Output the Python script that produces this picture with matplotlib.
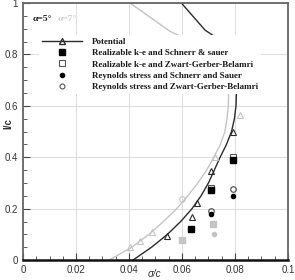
import numpy as np
import matplotlib
matplotlib.use('Agg')
import matplotlib.pyplot as plt
from matplotlib.lines import Line2D

# cavity shape, alpha = 5 deg (potential)
pot5_x = [0.0415, 0.0485, 0.0545, 0.0595, 0.0638, 0.0672, 0.0700, 0.0722, 0.0744, 0.0768,
          0.0787, 0.0798, 0.0804, 0.0806, 0.0800, 0.0782, 0.0745, 0.0687, 0.0598]
pot5_y = [0.0, 0.05, 0.10, 0.15, 0.20, 0.25, 0.30, 0.35, 0.40, 0.45,
          0.50, 0.55, 0.60, 0.66, 0.73, 0.80, 0.855, 0.895, 1.0]
# cavity shape, alpha = 7 deg (potential, grey)
pot7_x = [0.0325, 0.0410, 0.0475, 0.0530, 0.0580, 0.0622, 0.0660, 0.0693, 0.0720, 0.0745,
          0.0762, 0.0770, 0.0775, 0.0776, 0.0765, 0.0735, 0.0680, 0.0555, 0.0404]
pot7_y = [0.0, 0.05, 0.10, 0.15, 0.20, 0.25, 0.30, 0.35, 0.40, 0.45,
          0.50, 0.55, 0.60, 0.65, 0.72, 0.78, 0.83, 0.89, 1.0]

# markers alpha = 5
tri5_x = [0.0543, 0.0637, 0.0655, 0.0709, 0.0791]
tri5_y = [0.093, 0.168, 0.222, 0.346, 0.499]
rke_ss_x = [0.0633, 0.0709, 0.0791]
rke_ss_y = [0.120, 0.272, 0.390]
rke_zgb_x = [0.0709, 0.0791]
rke_zgb_y = [0.282, 0.402]
rs_ss_x = [0.0709, 0.0791]
rs_ss_y = [0.179, 0.249]
rs_zgb_x = [0.0709, 0.0791]
rs_zgb_y = [0.192, 0.277]

# markers alpha = 7 (grey)
tri7_x = [0.0405, 0.0440, 0.0486, 0.0723, 0.0819]
tri7_y = [0.052, 0.075, 0.110, 0.400, 0.564]
sq7_x = [0.0600, 0.0717]
sq7_y = [0.078, 0.140]
dot7_x = [0.0720]
dot7_y = [0.100]
circ7_x = [0.0600]
circ7_y = [0.237]

labels = ['Potential',
          'Realizable k-e and Schnerr & sauer',
          'Realizable k-e and Zwart-Gerber-Belamri',
          'Reynolds stress and Schnerr and Sauer',
          'Reynolds stress and Zwart-Gerber-Belamri']

dark = '#2b2b2b'
grey = '#c4c4c4'

fig = plt.figure(figsize=(2.95, 2.8), dpi=100)
ax = fig.add_axes([0.078, 0.071, 0.898, 0.918])

ax.plot(pot7_x, pot7_y, color=grey, lw=1.0, zorder=2)
ax.plot(pot5_x, pot5_y, color=dark, lw=1.0, zorder=2)

ax.plot(tri7_x, tri7_y, ls='none', marker='^', ms=4, mfc='none', mec=grey, mew=0.8, zorder=3)
ax.plot(sq7_x, sq7_y, ls='none', marker='s', ms=4, mfc=grey, mec=grey, zorder=3)
ax.plot(dot7_x, dot7_y, ls='none', marker='o', ms=3, mfc=grey, mec=grey, zorder=3)
ax.plot(circ7_x, circ7_y, ls='none', marker='o', ms=4, mfc='none', mec=grey, mew=0.8, zorder=3)

ax.plot(tri5_x, tri5_y, ls='none', marker='^', ms=4.5, mfc='none', mec=dark, mew=0.8, zorder=3)
ax.plot(rke_zgb_x, rke_zgb_y, ls='none', marker='s', ms=4.5, mfc='white', mec='#555555', mew=0.8, zorder=3)
ax.plot(rke_ss_x, rke_ss_y, ls='none', marker='s', ms=4.5, mfc='black', mec='black', zorder=4)
ax.plot(rs_zgb_x, rs_zgb_y, ls='none', marker='o', ms=4, mfc='none', mec='#444444', mew=0.8, zorder=3)
ax.plot(rs_ss_x, rs_ss_y, ls='none', marker='o', ms=3, mfc='black', mec='black', zorder=3)

ax.set_xlim(0, 0.1)
ax.set_ylim(0, 1)
ax.set_xticks([0, 0.02, 0.04, 0.06, 0.08, 0.1])
ax.set_xticklabels(['0', '0.02', '0.04', '0.06', '0.08', '0.1'])
ax.set_yticks([0, 0.2, 0.4, 0.6, 0.8, 1.0])
ax.set_yticklabels(['0', '0.2', '0.4', '0.6', '0.8', '1'])
ax.set_xticks(np.arange(0, 0.1001, 0.005), minor=True)
ax.set_yticks(np.arange(0, 1.001, 0.05), minor=True)
ax.tick_params(which='both', direction='in', colors='#444444', labelcolor='#333333',
               labelsize=7, top=False, right=False)
ax.tick_params(which='major', length=5, width=0.8)
ax.tick_params(which='minor', length=3, width=0.6)
for lab in ax.get_xticklabels() + ax.get_yticklabels():
    lab.set_family('Liberation Sans')
ax.grid(True, which='major', color='#dcdcdc', lw=0.7)
ax.set_axisbelow(True)
for s in ['left', 'top', 'right']:
    ax.spines[s].set_color('#666666')
    ax.spines[s].set_linewidth(1.3)
ax.spines['bottom'].set_color('#111111')
ax.spines['bottom'].set_linewidth(1.8)

handles = [
    Line2D([], [], color=dark, lw=1.0, marker='^', ms=4, mfc='none', mec=dark),
    Line2D([], [], ls='none', marker='s', ms=4, mfc='black', mec='black'),
    Line2D([], [], ls='none', marker='s', ms=4, mfc='white', mec='#555555', mew=0.8),
    Line2D([], [], ls='none', marker='o', ms=3, mfc='black', mec='black'),
    Line2D([], [], ls='none', marker='o', ms=3.5, mfc='none', mec='#555555', mew=0.8),
]
leg = ax.legend(handles, labels, loc='upper left', bbox_to_anchor=(0.06, 0.877),
                frameon=True, facecolor='white', edgecolor='none', framealpha=1,
                fancybox=False, handlelength=4.4, handletextpad=1.1, labelspacing=0.32,
                borderpad=0.35, borderaxespad=0,
                prop={'family': 'Liberation Serif', 'weight': 'bold', 'size': 6.5})
leg.set_zorder(5)
for t in leg.get_texts():
    t.set_color('#1a1a1a')

ax.text(0.0038, 0.938, 'α=5°', fontsize=6.8, family='Liberation Serif', weight='bold',
        color='#1a1a1a', va='center', zorder=6)
ax.text(0.0132, 0.938, 'α=7°', fontsize=6.8, family='Liberation Serif', weight='bold',
        color='#d0d0d0', va='center', zorder=6)

fig.text(0.027, 0.557, 'l/c', rotation=90, fontsize=7, weight='bold',
         family='Liberation Sans', color='#333333', ha='center', va='center')
fig.text(0.525, 0.022, 'σ/c', fontsize=7, family='Liberation Sans', style='italic',
         color='#333333', ha='center', va='center')

fig.savefig('out.png', dpi=100)
